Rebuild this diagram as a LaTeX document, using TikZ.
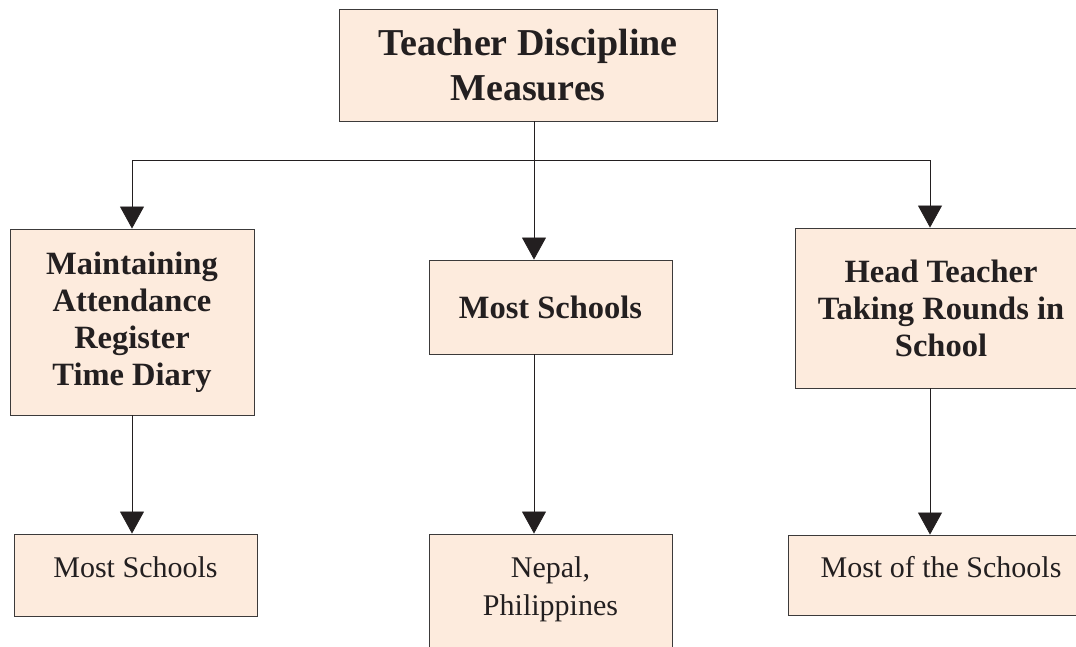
\documentclass[tikz,border=0pt]{standalone}
\usepackage{fontspec}
\setmainfont{Liberation Serif}
\usetikzlibrary{arrows.meta}
\definecolor{boxfill}{RGB}{253,235,221}
\definecolor{boxline}{RGB}{60,58,58}
\definecolor{ink}{RGB}{35,31,32}
\begin{document}
\begin{tikzpicture}[x=1pt, y=-1pt,
  box/.style={rectangle, draw=boxline, fill=boxfill, line width=0.9pt, inner sep=0pt, align=center, text=ink},
  head/.style={box, font=\bfseries\fontsize{32.5}{37}\selectfont},
  leaf/.style={box, font=\fontsize{30}{38}\selectfont, anchor=base},
  link/.style={draw=ink, line width=0.8pt},
  arr/.style={link, -{Triangle[length=22pt,width=24pt]}}]
\useasboundingbox (0,0) rectangle (1076,646);
\node [box, font=\bfseries\fontsize{38}{45}\selectfont, minimum width=378pt, minimum height=112pt] (top) at (528,65) {Teacher Discipline\\Measures};
\node [head, minimum width=244pt, minimum height=186pt] (left) at (132,322) {Maintaining\\Attendance\\Register\\Time Diary};
\node [head, minimum width=243pt, minimum height=94pt] (mid) at (550.5,307) {Most Schools};
\node [head, minimum width=292pt, minimum height=160pt] (right) at (941,308) {Head Teacher\\Taking Rounds in\\School};
\node [leaf, minimum width=243pt, text height=43pt, text depth=39pt] (leftb) at (135.5,577) {Most Schools};
\node [leaf, minimum width=243pt, text height=81pt, text depth=50pt] (midb) at (550.5,615) {Nepal,\\Philippines};
\node [leaf, minimum width=306pt, text height=42pt, text depth=38pt] (rightb) at (941,577) {Most of the Schools};
\coordinate (hub) at (534,160);
\coordinate (rdrop) at (930,160);
\draw [link] (top.south -| hub) -- (hub);
\draw [arr] (hub) -| (left.north);
\draw [arr] (hub) -- (mid.north -| hub);
\draw [arr] (hub) -- (rdrop) -- (right.north -| rdrop);
\draw [arr] (left.south) -- (leftb.north -| left.south);
\draw [arr] (mid.south -| hub) -- (midb.north -| hub);
\draw [arr] (right.south -| rdrop) -- (rightb.north -| rdrop);
\end{tikzpicture}
\end{document}
